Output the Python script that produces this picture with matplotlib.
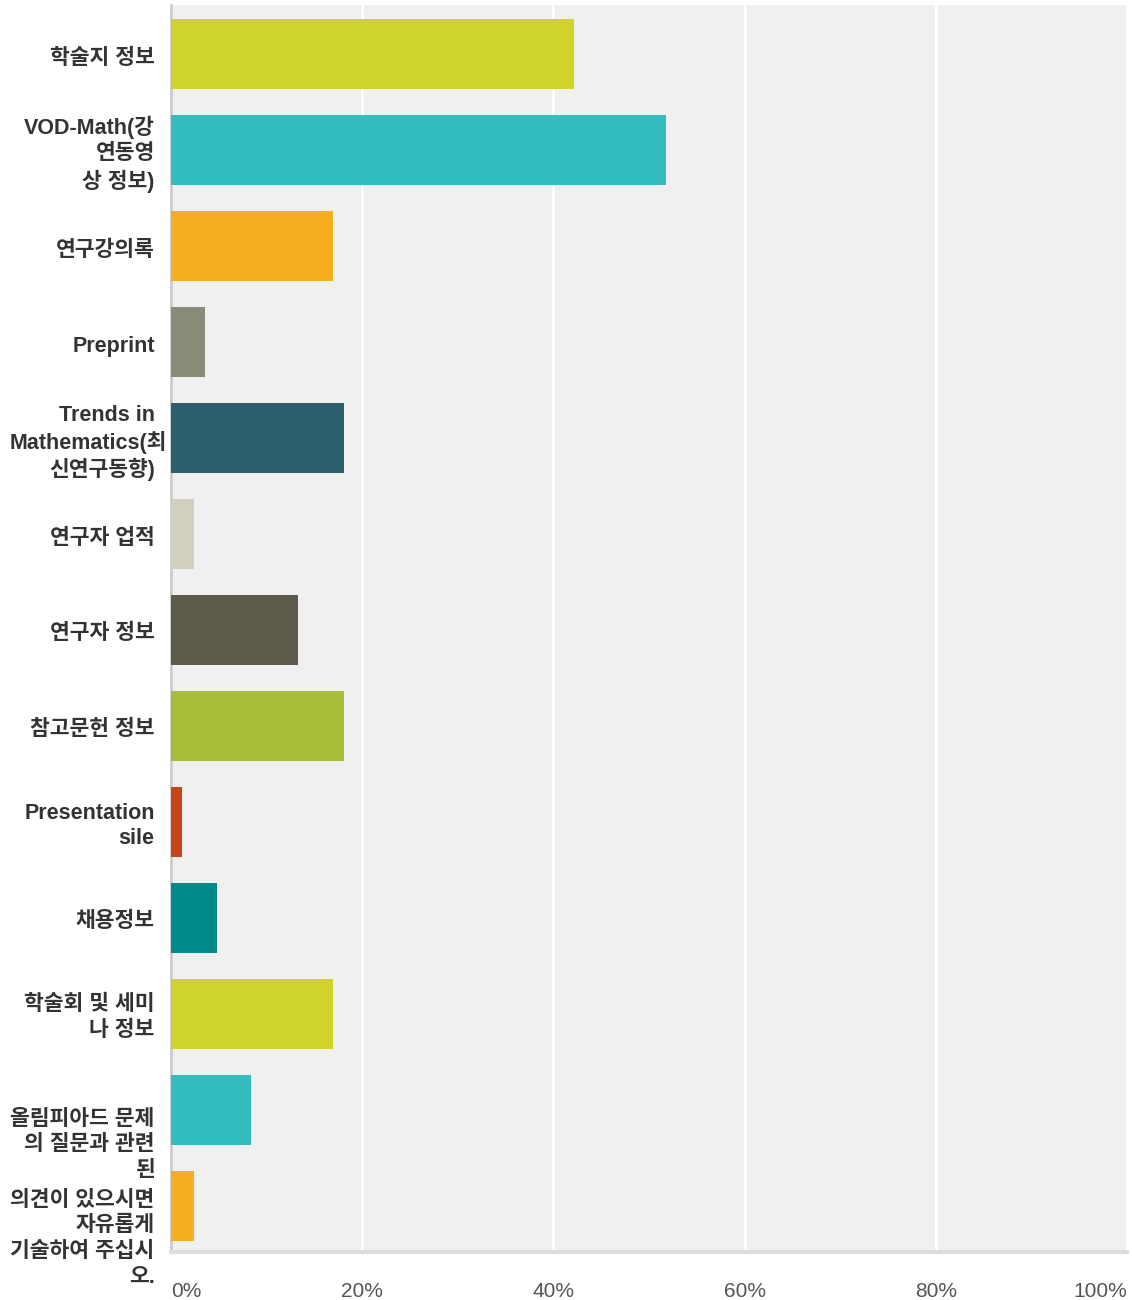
import matplotlib
matplotlib.use("Agg")
import matplotlib.pyplot as plt
from matplotlib.transforms import ScaledTranslation

# survey answers (percent of respondents)
categories = [
    "학술지 정보",
    "VOD-Math(강\n연동영\n상 정보)",
    "연구강의록",
    "Preprint",
    "Trends in\nMathematics(최\n신연구동향)",
    "연구자 업적",
    "연구자 정보",
    "참고문헌 정보",
    "Presentation\nsile",
    "채용정보",
    "학술회 및 세미\n나 정보",
    "올림피아드 문제\n의 질문과 관련\n된",
    "의견이 있으시면\n자유롭게\n기술하여 주십시\n오.",
]
values = [42.2, 51.8, 16.9, 3.6, 18.1, 2.4, 13.3, 18.1, 1.2, 4.8, 16.9, 8.4, 2.4]
colors = ["#d0d42a", "#33bdbf", "#f6ae1f", "#8b8b7a", "#2e5f6c", "#d0cfc0", "#5c5a4a",
          "#aabd3a", "#c8451a", "#008a8a", "#d0d42a", "#33bdbf", "#f6ae1f"]
xticks = [0, 20, 40, 60, 80, 100]
xtick_labels = ["0%", "20%", "40%", "60%", "80%", "100%"]

fig = plt.figure(figsize=(11.32, 13), dpi=100)
ax = fig.add_axes([0.151, 0.037, 0.8446, 0.959])
ax.set_facecolor("#f0f0f0")

ypos = list(range(len(categories)))
ax.barh(ypos, values, height=0.73, color=colors, zorder=3)

ax.set_xlim(0, 100)
ax.set_ylim(12.48, -0.51)
ax.set_xticks(xticks)
ax.set_xticklabels(xtick_labels, fontsize=15, color="#555555", family="Liberation Sans")
tl = ax.get_xticklabels()
tl[0].set_ha("left")
tl[-1].set_ha("right")
ax.tick_params(axis="x", length=0, pad=22)
ax.grid(axis="x", color="white", linewidth=2, zorder=1)

ax.set_yticks([])
for s in ["top", "right"]:
    ax.spines[s].set_visible(False)
ax.spines["left"].set_color("#cccccc")
ax.spines["left"].set_linewidth(2)
ax.spines["bottom"].set_color("#dddddd")
ax.spines["bottom"].set_linewidth(3)

# category labels drawn as text so the last two can sit lower like the original
shift = {11: 31, 12: 29}
style = dict(ha="right", va="center", multialignment="right", fontsize=15.5,
             fontweight="bold", color="#333333", linespacing=1.3,
             family=["Liberation Sans", "Noto Sans CJK KR"])
ytr = ax.get_yaxis_transform()
for i, lab in enumerate(categories):
    off = ScaledTranslation(0, -(shift.get(i, 0) + 4) / 100, fig.dpi_scale_trans)
    if i == 4:
        # one text per line; the long middle line runs past the others, as in the original
        for k, line in enumerate(lab.split("\n")):
            dx = 0.12 if k == 1 else 0
            o = off + ScaledTranslation(dx, (1 - k) * 0.27, fig.dpi_scale_trans)
            ax.text(-0.017, i, line, transform=ytr + o, **style)
    else:
        ax.text(-0.017, i, lab, transform=ytr + off, **style)

fig.savefig("out.png", dpi=100)
